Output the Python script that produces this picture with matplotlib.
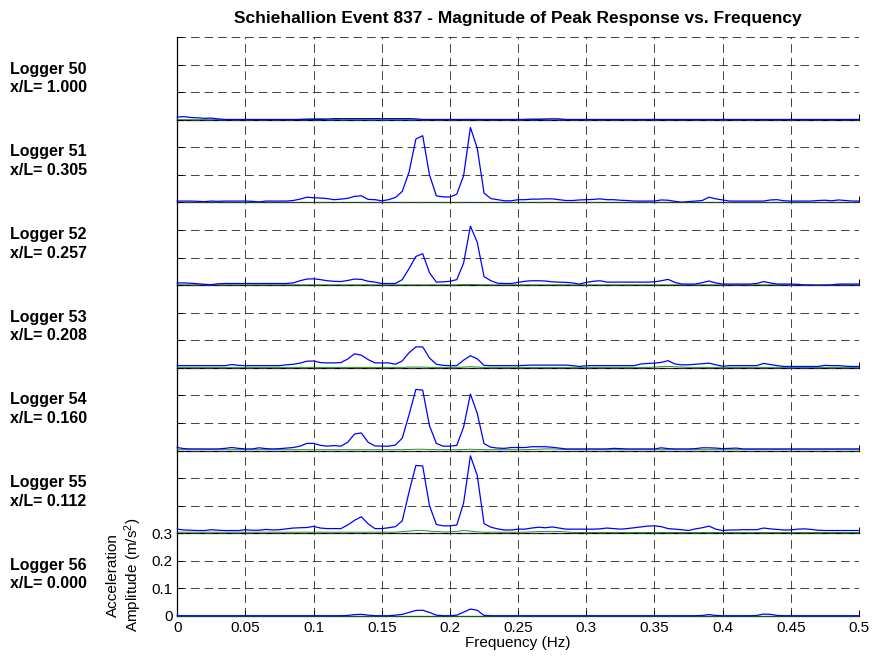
import numpy as np
import matplotlib
matplotlib.use('Agg')
import matplotlib.pyplot as plt

plt.rcParams['font.family'] = ['Liberation Sans', 'DejaVu Sans']
plt.rcParams['mathtext.default'] = 'regular'

# frequency axis (Hz), 0.005 Hz bins
freq = np.arange(101) * 0.005

loggers = ['Logger 50', 'Logger 51', 'Logger 52', 'Logger 53',
           'Logger 54', 'Logger 55', 'Logger 56']
xl = [1.000, 0.305, 0.257, 0.208, 0.160, 0.112, 0.000]

# blue trace, per logger (m/s^2)
blue_50 = [0.010, 0.011, 0.008, 0.007, 0.005, 0.006, 0.003, 0.001, 0.001, 0.001,
           0.001, 0.001, 0.001, 0.001, 0.001, 0.001, 0.001, 0.001, 0.001, 0.001,
           0.001, 0.001, 0.002, 0.004, 0.004, 0.004, 0.004, 0.004, 0.004, 0.004,
           0.004, 0.004, 0.004, 0.004, 0.004, 0.003, 0.001, 0.001, 0.001, 0.001,
           0.001, 0.001, 0.001, 0.001, 0.001, 0.001, 0.001, 0.001, 0.001, 0.001,
           0.001, 0.001, 0.001, 0.001, 0.002, 0.003, 0.003, 0.001, 0.001, 0.001,
           0.001, 0.001, 0.001, 0.001, 0.001, 0.001, 0.001, 0.001, 0.001, 0.001,
           0.001, 0.001, 0.001, 0.001, 0.001, 0.001, 0.001, 0.001, 0.001, 0.001,
           0.001, 0.001, 0.001, 0.001, 0.001, 0.001, 0.001, 0.001, 0.001, 0.001,
           0.001, 0.001, 0.001, 0.001, 0.001, 0.001, 0.001, 0.001, 0.001, 0.001,
           0.001]
blue_51 = [0.005, 0.005, 0.005, 0.004, 0.003, 0.005, 0.004, 0.005, 0.005, 0.005,
           0.005, 0.004, 0.002, 0.005, 0.005, 0.005, 0.005, 0.007, 0.012, 0.019,
           0.017, 0.016, 0.014, 0.010, 0.012, 0.015, 0.022, 0.024, 0.011, 0.010,
           0.006, 0.010, 0.018, 0.040, 0.110, 0.230, 0.242, 0.100, 0.024, 0.020,
           0.020, 0.030, 0.097, 0.272, 0.197, 0.034, 0.014, 0.010, 0.006, 0.006,
           0.010, 0.010, 0.012, 0.012, 0.013, 0.013, 0.010, 0.007, 0.007, 0.009,
           0.010, 0.011, 0.013, 0.010, 0.010, 0.008, 0.007, 0.005, 0.005, 0.005,
           0.005, 0.009, 0.008, 0.004, 0.001, 0.003, 0.005, 0.007, 0.019, 0.013,
           0.009, 0.005, 0.005, 0.005, 0.005, 0.005, 0.005, 0.009, 0.010, 0.006,
           0.005, 0.005, 0.005, 0.005, 0.007, 0.008, 0.006, 0.009, 0.007, 0.005,
           0.005]
blue_52 = [0.008, 0.008, 0.007, 0.005, 0.003, 0.002, 0.005, 0.006, 0.006, 0.006,
           0.006, 0.006, 0.006, 0.006, 0.006, 0.006, 0.006, 0.008, 0.016, 0.022,
           0.023, 0.020, 0.016, 0.014, 0.013, 0.017, 0.022, 0.021, 0.014, 0.011,
           0.006, 0.006, 0.006, 0.020, 0.060, 0.104, 0.114, 0.045, 0.011, 0.012,
           0.014, 0.020, 0.080, 0.214, 0.156, 0.031, 0.016, 0.007, 0.006, 0.006,
           0.010, 0.014, 0.016, 0.016, 0.015, 0.012, 0.011, 0.010, 0.008, 0.004,
           0.010, 0.014, 0.016, 0.011, 0.011, 0.011, 0.011, 0.011, 0.011, 0.011,
           0.012, 0.016, 0.021, 0.010, 0.004, 0.004, 0.004, 0.009, 0.015, 0.008,
           0.004, 0.004, 0.004, 0.004, 0.004, 0.006, 0.013, 0.008, 0.004, 0.004,
           0.004, 0.003, 0.001, 0.000, 0.000, 0.000, 0.001, 0.004, 0.004, 0.004,
           0.004]
blue_53 = [0.008, 0.008, 0.008, 0.008, 0.008, 0.008, 0.008, 0.008, 0.012, 0.009,
           0.008, 0.008, 0.008, 0.008, 0.008, 0.008, 0.011, 0.013, 0.017, 0.024,
           0.025, 0.019, 0.018, 0.018, 0.019, 0.032, 0.051, 0.046, 0.030, 0.018,
           0.018, 0.018, 0.013, 0.025, 0.055, 0.076, 0.076, 0.036, 0.013, 0.009,
           0.008, 0.008, 0.028, 0.044, 0.033, 0.009, 0.008, 0.008, 0.008, 0.008,
           0.008, 0.009, 0.010, 0.010, 0.010, 0.010, 0.010, 0.010, 0.008, 0.005,
           0.008, 0.008, 0.008, 0.008, 0.008, 0.008, 0.008, 0.008, 0.014, 0.016,
           0.017, 0.020, 0.026, 0.014, 0.011, 0.011, 0.013, 0.015, 0.017, 0.011,
           0.006, 0.008, 0.008, 0.008, 0.008, 0.008, 0.016, 0.012, 0.008, 0.005,
           0.005, 0.005, 0.005, 0.005, 0.005, 0.009, 0.008, 0.008, 0.006, 0.005,
           0.005]
blue_54 = [0.011, 0.007, 0.006, 0.006, 0.006, 0.006, 0.006, 0.008, 0.011, 0.008,
           0.006, 0.006, 0.010, 0.007, 0.006, 0.007, 0.009, 0.011, 0.016, 0.026,
           0.026, 0.019, 0.016, 0.018, 0.016, 0.030, 0.060, 0.064, 0.030, 0.017,
           0.016, 0.016, 0.020, 0.045, 0.130, 0.222, 0.219, 0.090, 0.026, 0.016,
           0.016, 0.019, 0.085, 0.205, 0.135, 0.025, 0.012, 0.009, 0.008, 0.011,
           0.011, 0.011, 0.014, 0.014, 0.014, 0.012, 0.009, 0.006, 0.006, 0.006,
           0.006, 0.006, 0.006, 0.006, 0.008, 0.007, 0.006, 0.006, 0.006, 0.006,
           0.006, 0.010, 0.007, 0.006, 0.006, 0.006, 0.007, 0.010, 0.010, 0.009,
           0.007, 0.008, 0.009, 0.006, 0.006, 0.006, 0.006, 0.006, 0.006, 0.006,
           0.006, 0.006, 0.006, 0.006, 0.006, 0.006, 0.006, 0.006, 0.006, 0.006,
           0.006]
blue_55 = [0.015, 0.012, 0.011, 0.010, 0.010, 0.013, 0.011, 0.010, 0.010, 0.010,
           0.013, 0.011, 0.011, 0.014, 0.012, 0.013, 0.016, 0.019, 0.020, 0.021,
           0.025, 0.019, 0.017, 0.017, 0.017, 0.030, 0.047, 0.060, 0.034, 0.017,
           0.017, 0.020, 0.024, 0.045, 0.150, 0.246, 0.244, 0.100, 0.032, 0.027,
           0.027, 0.030, 0.110, 0.281, 0.210, 0.035, 0.022, 0.016, 0.012, 0.012,
           0.015, 0.015, 0.019, 0.022, 0.020, 0.023, 0.019, 0.015, 0.015, 0.015,
           0.015, 0.015, 0.016, 0.019, 0.017, 0.015, 0.017, 0.020, 0.023, 0.026,
           0.027, 0.024, 0.017, 0.015, 0.013, 0.010, 0.016, 0.020, 0.026, 0.015,
           0.010, 0.012, 0.012, 0.013, 0.013, 0.013, 0.019, 0.016, 0.014, 0.012,
           0.012, 0.015, 0.016, 0.014, 0.011, 0.010, 0.010, 0.010, 0.010, 0.010,
           0.010]
blue_56 = [0.001, 0.001, 0.001, 0.001, 0.001, 0.001, 0.001, 0.001, 0.001, 0.001,
           0.001, 0.001, 0.001, 0.001, 0.001, 0.001, 0.001, 0.001, 0.001, 0.001,
           0.001, 0.001, 0.001, 0.001, 0.001, 0.002, 0.005, 0.006, 0.003, 0.001,
           0.001, 0.001, 0.003, 0.006, 0.013, 0.020, 0.021, 0.013, 0.003, 0.001,
           0.001, 0.003, 0.014, 0.025, 0.021, 0.002, 0.001, 0.001, 0.001, 0.001,
           0.001, 0.001, 0.001, 0.001, 0.001, 0.001, 0.001, 0.001, 0.001, 0.001,
           0.001, 0.001, 0.001, 0.001, 0.001, 0.001, 0.001, 0.001, 0.001, 0.001,
           0.001, 0.001, 0.001, 0.001, 0.001, 0.001, 0.001, 0.002, 0.005, 0.002,
           0.001, 0.001, 0.001, 0.001, 0.001, 0.002, 0.007, 0.006, 0.002, 0.001,
           0.001, 0.001, 0.001, 0.001, 0.001, 0.001, 0.001, 0.001, 0.001, 0.001,
           0.001]

# green trace, per logger (m/s^2)
green_50 = [0.000] * 18 + [0.002, 0.003, 0.004, 0.004, 0.003, 0.001] + [0.000] * 27 + \
           [0.002, 0.003, 0.003, 0.003, 0.003, 0.002] + [0.000] * 44
green_51 = [0.001] * 101
green_52 = [0.001] * 42 + [0.002, 0.003, 0.002] + [0.001] * 56
green_53 = [0.002] * 34 + [0.003, 0.003, 0.003, 0.002, 0.002, 0.002, 0.002, 0.002, 0.003,
           0.004, 0.003] + [0.002] * 25 + [0.003, 0.004, 0.005, 0.004, 0.003] + [0.002] * 26
green_54 = [0.003] * 34 + [0.004, 0.005, 0.005, 0.004, 0.003, 0.003, 0.003, 0.003, 0.004,
           0.005, 0.004] + [0.003] * 7 + [0.004, 0.005, 0.006, 0.006, 0.005, 0.004] + \
           [0.003] * 43
green_55 = [0.004] * 33 + [0.006, 0.008, 0.010, 0.010, 0.008, 0.006, 0.005, 0.005, 0.007,
           0.010, 0.008, 0.005] + [0.004] * 7 + [0.005, 0.006, 0.007, 0.007, 0.006,
           0.005] + [0.003] * 43
green_56 = [0.000] * 101

blues = [blue_50, blue_51, blue_52, blue_53, blue_54, blue_55, blue_56]
greens = [green_50, green_51, green_52, green_53, green_54, green_55, green_56]

xticks = [0, 0.05, 0.1, 0.15, 0.2, 0.25, 0.3, 0.35, 0.4, 0.45, 0.5]
xticklabels = ['0', '0.05', '0.1', '0.15', '0.2', '0.25', '0.3', '0.35', '0.4', '0.45', '0.5']
yticks = [0, 0.1, 0.2, 0.3]
yticklabels = ['0', '0.1', '0.2', '0.3']

fig = plt.figure(figsize=(8.75, 6.62), dpi=100)
left, width = 0.2026, 0.7791
bot0, h = 0.0695, 0.12494
n = len(loggers)

for k in range(n):
    ax = fig.add_axes([left, bot0 + (n - 1 - k) * h, width, h])
    ax.patch.set_alpha(0)
    ax.plot(freq, greens[k], color='#008000', lw=0.6, clip_on=False, zorder=3)
    ax.plot(freq, blues[k], color='#0000ff', lw=0.9, clip_on=False, zorder=4)
    ax.set_xlim(0, 0.5)
    ax.set_ylim(0, 0.3)
    ax.set_xticks(xticks)
    ax.set_yticks(yticks)
    ax.grid(True, color='0.2', linestyle=(0, (9.5, 5.5)), lw=0.65)
    ax.set_axisbelow(True)
    for s in ['top', 'right']:
        ax.spines[s].set_visible(False)
    for s in ['left', 'bottom']:
        ax.spines[s].set_linewidth(0.9)
    ax.tick_params(direction='in', length=4, width=0.7, labelsize=11)
    if k < n - 1:
        ax.set_xticklabels([])
        ax.set_yticklabels([])
    else:
        ax.set_xticklabels(xticklabels)
        ax.set_yticklabels(yticklabels)
        ax.set_xlabel('Frequency (Hz)', fontsize=11, labelpad=1)
        ax.set_ylabel('Acceleration\nAmplitude (m/s$^2$)', fontsize=11, labelpad=5)
    yc = bot0 + (n - 1 - k + 0.5) * h
    fig.text(10 / 875, yc, '%s\nx/L= %.3f' % (loggers[k], xl[k]),
             ha='left', va='center', fontsize=11.5, fontweight='bold', linespacing=1.3)

fig.text(left + width / 2, 1 - 19 / 662,
         'Schiehallion Event 837 - Magnitude of Peak Response vs. Frequency',
         ha='center', va='center', fontsize=12.5, fontweight='bold')

fig.savefig('out.png', dpi=100)
